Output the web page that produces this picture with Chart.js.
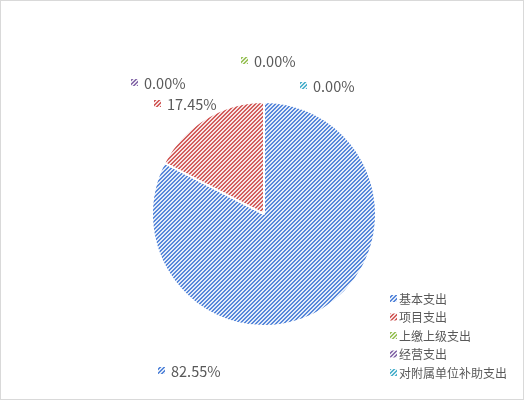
<!DOCTYPE html>
<html><head><meta charset="utf-8">
<script src="https://cdn.jsdelivr.net/npm/chart.js@4"></script>
<style>
html,body{margin:0;padding:0;background:#fff;}
#wrap{position:relative;width:524px;height:400px;box-sizing:border-box;border:1px solid #d9d9d9;background:#fff;}
canvas{display:block;}
</style></head><body>
<div id="wrap"><canvas id="c" width="522" height="398"></canvas></div>
<script>
const categories = ['基本支出','项目支出','上缴上级支出','经营支出','对附属单位补助支出'];
const shares = [82.55, 17.45, 0, 0, 0];
const seriesColors = [[88,136,218],[210,94,92],[155,195,92],[138,110,172],[80,178,205]];

// label anchor positions (layout only): left edge of marker, vertical centre
const labelPos = [[157,369],[153,102],[240,59],[130,81],[299,84]];
const legendPos = {x:389, y0:297, step:18.5};

const mainCtx = document.getElementById('c').getContext('2d');
function hatch(rgb){
  const n=4;
  const t=document.createElement('canvas'); t.width=n; t.height=n;
  const g=t.getContext('2d');
  const img=g.createImageData(n,n);
  const bg=rgb.map(c=>Math.round(c+(255-c)*0.84));
  for(let y=0;y<n;y++)for(let x=0;x<n;x++){
    const k=(x+y)%n;
    const col=(k===0||k===1)?rgb:bg;
    const o=(y*n+x)*4;
    img.data[o]=col[0];img.data[o+1]=col[1];img.data[o+2]=col[2];img.data[o+3]=255;
  }
  g.putImageData(img,0,0);
  return mainCtx.createPattern(t,'repeat');
}
const patterns = seriesColors.map(hatch);

const FONT = '"Noto Sans CJK SC","Microsoft YaHei",sans-serif';
const TXT = '#595959';

const overlay = {
  id:'overlay',
  afterDatasetsDraw(chart){
    const ctx=chart.ctx;
    ctx.save();
    ctx.font='14.5px '+FONT;
    ctx.textBaseline='middle';
    shares.forEach((v,i)=>{
      const [x,y]=labelPos[i];
      ctx.fillStyle=patterns[i]; ctx.fillRect(x,y-3,7,7);
      ctx.fillStyle=TXT;
      ctx.fillText(v.toFixed(2)+'%', x+13, y+1);
    });
    ctx.font='12px '+FONT;
    categories.forEach((c,i)=>{
      const y=legendPos.y0+i*legendPos.step;
      ctx.fillStyle=patterns[i]; ctx.fillRect(legendPos.x,y-3,7,7);
      ctx.fillStyle=TXT;
      ctx.fillText(c, legendPos.x+9, y+1);
    });
    ctx.restore();
  }
};

new Chart(document.getElementById('c'),{
  type:'pie',
  data:{labels:categories,datasets:[{data:shares,backgroundColor:patterns,borderColor:'#ffffff',borderWidth:2}]},
  options:{
    responsive:false,animation:false,
    layout:{padding:{left:150,right:146,top:100,bottom:72}},
    plugins:{legend:{display:false},tooltip:{enabled:false}}
  },
  plugins:[overlay]
});
</script>
</body></html>
